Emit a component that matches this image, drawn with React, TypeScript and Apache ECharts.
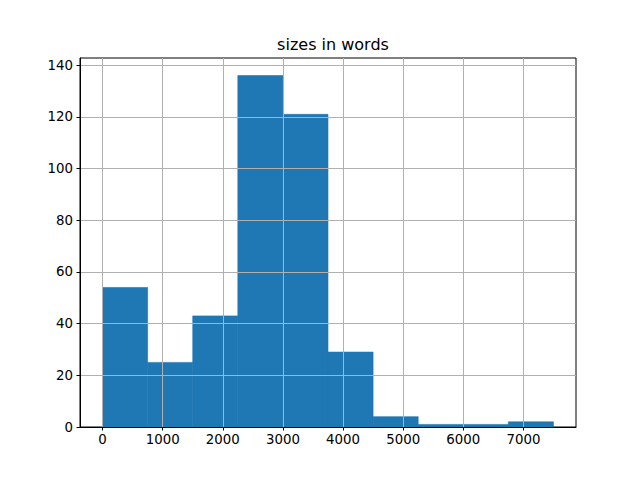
import React, { useEffect, useRef } from "react";
import * as echarts from "echarts";

const binEdges = [0, 750, 1500, 2250, 3000, 3750, 4500, 5250, 6000, 6750, 7500];
const counts = [54, 25, 43, 136, 121, 29, 4, 1, 1, 2];
const xTicks = [0, 1000, 2000, 3000, 4000, 5000, 6000, 7000];
const yTicks = [0, 20, 40, 60, 80, 100, 120, 140];
const title = "sizes in words";

export default function App() {
  const ref = useRef<HTMLDivElement>(null);
  useEffect(() => {
    if (!ref.current) return;
    const chart = echarts.init(ref.current, null, { renderer: "svg" });
    const data = counts.map((c, i) => [binEdges[i], binEdges[i + 1], c]);
    const span = binEdges[binEdges.length - 1] - binEdges[0];
    const xMin = binEdges[0] - span * 0.05;
    const xMax = binEdges[binEdges.length - 1] + span * 0.05;
    const yMax = Math.max(...counts) * 1.05;
    const font = "DejaVu Sans";
    const gridColor = "#b0b0b0";
    const barColor = "#1f77b4";
    chart.setOption({
      animation: false,
      title: {
        text: title,
        left: 328,
        top: 31,
        textAlign: "center",
        textStyle: { fontFamily: font, fontSize: 16, fontWeight: "normal", color: "#000" },
      },
      grid: {
        left: 80,
        right: 64,
        top: 58,
        bottom: 53,
        show: true,
        borderColor: "#000",
        borderWidth: 1,
        backgroundColor: "#fff",
      },
      xAxis: {
        type: "value",
        min: xMin,
        max: xMax,
        z: 10,
        axisLine: { show: true, onZero: false, lineStyle: { color: "#000", width: 1 } },
        axisTick: { show: true, customValues: xTicks, length: 3.5, lineStyle: { color: "#000" } },
        axisLabel: {
          customValues: xTicks,
          formatter: (v: number) => String(v),
          fontFamily: font,
          fontSize: 13.33,
          color: "#000",
          margin: 6,
        },
        splitLine: { show: false },
      },
      yAxis: {
        type: "value",
        min: 0,
        max: yMax,
        z: 10,
        axisLine: { show: true, onZero: false, lineStyle: { color: "#000", width: 1 } },
        axisTick: { show: true, customValues: yTicks, length: 3.5, lineStyle: { color: "#000" } },
        axisLabel: {
          customValues: yTicks,
          formatter: (v: number) => String(v),
          fontFamily: font,
          fontSize: 13.33,
          color: "#000",
          margin: 7,
        },
        splitLine: { show: false },
      },
      series: [
        {
          type: "custom",
          data,
          encode: { x: [0, 1], y: 2 },
          renderItem: (params: any, api: any) => {
            const p0 = api.coord([api.value(0), api.value(2)]);
            const p1 = api.coord([api.value(1), 0]);
            return {
              type: "rect",
              shape: { x: p0[0], y: p0[1], width: p1[0] - p0[0], height: p1[1] - p0[1] },
              style: { fill: barColor, stroke: barColor, lineWidth: 0.6 },
            };
          },
          markLine: {
            silent: true,
            z: 5,
            symbol: ["none", "none"],
            label: { show: false },
            lineStyle: { color: gridColor, width: 1, type: "solid" },
            data: [
              ...xTicks.map((v) => ({ xAxis: v })),
              ...yTicks.slice(1).map((v) => ({ yAxis: v })),
            ],
          },
        },
      ],
    });
    return () => chart.dispose();
  }, []);
  return (
    <div
      ref={ref}
      style={{ position: "fixed", left: 0, top: 0, width: 640, height: 480, background: "#fff" }}
    />
  );
}
